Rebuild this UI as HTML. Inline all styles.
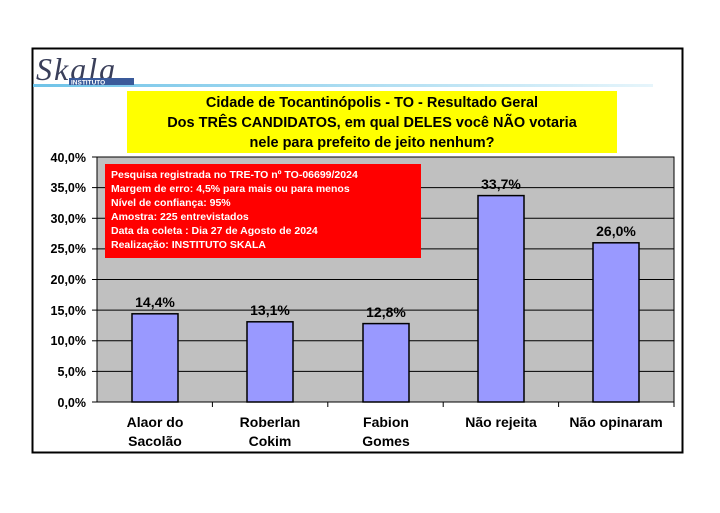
<!DOCTYPE html>
<html><head><meta charset="utf-8"><style>
body{margin:0;background:#fff;width:720px;height:508px;overflow:hidden}
svg text{font-family:"Liberation Sans",Arial,sans-serif;font-weight:bold}
svg text.logo{font-family:"Liberation Serif",serif;font-style:italic;font-weight:normal}
</style></head><body>
<svg width="720" height="508" viewBox="0 0 720 508" xmlns="http://www.w3.org/2000/svg">
<defs><linearGradient id="lg" x1="0" x2="1"><stop offset="0" stop-color="#6fc3e8"/><stop offset="1" stop-color="#e6f5fb"/></linearGradient></defs>
<rect x="32.5" y="48.5" width="650" height="404" fill="#fff" stroke="#000" stroke-width="2"/>
<rect x="33" y="84" width="620" height="3" fill="url(#lg)"/>
<text class="logo" x="36" y="80" font-size="32" fill="#3a3f5a" letter-spacing="2">Skala</text>
<rect x="69" y="78" width="65" height="7" fill="#3a5a9a"/>
<text x="71" y="84.5" font-size="6.5" fill="#fff">INSTITUTO</text>
<rect x="127" y="91" width="490" height="62" fill="#ffff00"/>
<g font-size="14.5" fill="#000" text-anchor="middle">
<text x="372" y="107">Cidade de Tocantinópolis - TO - Resultado Geral</text>
<text x="372" y="127">Dos TRÊS CANDIDATOS, em qual DELES você NÃO votaria</text>
<text x="372" y="147">nele para prefeito de jeito nenhum?</text>
</g>
<rect x="97" y="157" width="577" height="245" fill="#c0c0c0" stroke="#000" stroke-width="1"/>
<g stroke="#000" stroke-width="1">
<line x1="97" y1="187.6" x2="674" y2="187.6"/><line x1="97" y1="218.3" x2="674" y2="218.3"/>
<line x1="97" y1="248.9" x2="674" y2="248.9"/><line x1="97" y1="279.5" x2="674" y2="279.5"/>
<line x1="97" y1="310.1" x2="674" y2="310.1"/><line x1="97" y1="340.8" x2="674" y2="340.8"/>
<line x1="97" y1="371.4" x2="674" y2="371.4"/>
<line x1="92" y1="157" x2="97" y2="157"/><line x1="92" y1="187.6" x2="97" y2="187.6"/><line x1="92" y1="218.3" x2="97" y2="218.3"/><line x1="92" y1="248.9" x2="97" y2="248.9"/><line x1="92" y1="279.5" x2="97" y2="279.5"/><line x1="92" y1="310.1" x2="97" y2="310.1"/><line x1="92" y1="340.8" x2="97" y2="340.8"/><line x1="92" y1="371.4" x2="97" y2="371.4"/><line x1="92" y1="402" x2="97" y2="402"/>
<line x1="212.4" y1="402" x2="212.4" y2="407"/><line x1="327.8" y1="402" x2="327.8" y2="407"/><line x1="443.2" y1="402" x2="443.2" y2="407"/><line x1="558.6" y1="402" x2="558.6" y2="407"/><line x1="674" y1="402" x2="674" y2="407"/>
</g>
<g font-size="12.5" text-anchor="end" fill="#000">
<text x="86" y="162">40,0%</text><text x="86" y="192">35,0%</text><text x="86" y="223">30,0%</text><text x="86" y="253">25,0%</text><text x="86" y="284">20,0%</text><text x="86" y="315">15,0%</text><text x="86" y="345">10,0%</text><text x="86" y="376">5,0%</text><text x="86" y="407">0,0%</text>
</g>
<g fill="#9999ff" stroke="#000" stroke-width="1.5">
<rect x="132" y="313.8" width="46" height="88.2"/>
<rect x="247" y="321.8" width="46" height="80.2"/>
<rect x="363" y="323.6" width="46" height="78.4"/>
<rect x="478" y="195.6" width="46" height="206.4"/>
<rect x="593" y="242.8" width="46" height="159.2"/>
</g>
<g font-size="14" text-anchor="middle" fill="#000">
<text x="155" y="307">14,4%</text><text x="270" y="315">13,1%</text><text x="386" y="317">12,8%</text><text x="501" y="189">33,7%</text><text x="616" y="236">26,0%</text>
</g>
<rect x="105" y="164" width="316" height="94" fill="#ff0000"/>
<g font-size="10.5" fill="#fff">
<text x="111" y="178">Pesquisa registrada no TRE-TO nº TO-06699/2024</text>
<text x="111" y="192">Margem de erro: 4,5% para mais ou para menos</text>
<text x="111" y="206">Nível de confiança: 95%</text>
<text x="111" y="220">Amostra: 225 entrevistados</text>
<text x="111" y="234">Data da coleta : Dia 27 de Agosto de 2024</text>
<text x="111" y="248">Realização: INSTITUTO SKALA</text>
</g>
<g font-size="14" text-anchor="middle" fill="#000">
<text x="155" y="427">Alaor do</text><text x="155" y="446">Sacolão</text>
<text x="270" y="427">Roberlan</text><text x="270" y="446">Cokim</text>
<text x="386" y="427">Fabion</text><text x="386" y="446">Gomes</text>
<text x="501" y="427">Não rejeita</text>
<text x="616" y="427">Não opinaram</text>
</g>
</svg>
</body></html>
